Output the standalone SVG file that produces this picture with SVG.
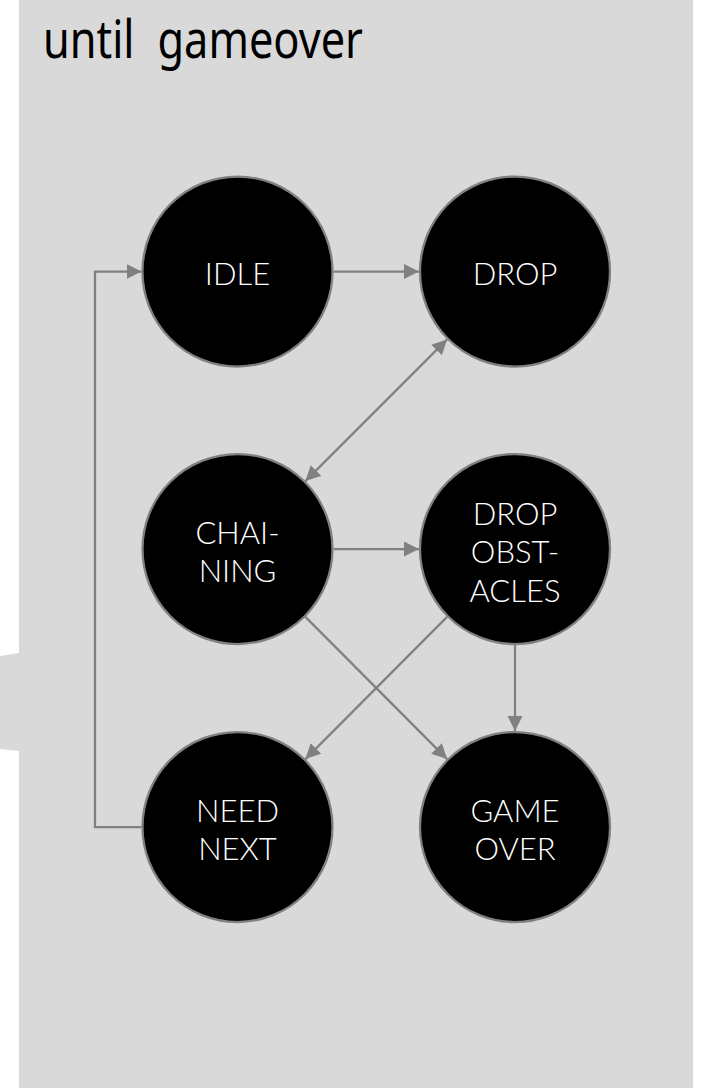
<svg xmlns="http://www.w3.org/2000/svg" width="708" height="1088" viewBox="0 0 708 1088">
  <defs>
    <style>
      .panel { fill: #d9d9d9; }
      .node circle { fill: #000000; stroke: #808080; stroke-width: 2.25; }
      .node text { fill: #ffffff; font-family: Lato, "Noto Sans", "Liberation Sans", sans-serif; font-size: 31px; font-weight: 300; text-anchor: middle; }
      .title { fill: #000000; font-family: "Noto Sans", "Open Sans", "Liberation Sans", sans-serif; font-size: 52px; word-spacing: 14px; }
      .edge { fill: none; stroke: #808080; stroke-width: 2.25; }
    </style>
    <marker id="arrow" markerUnits="userSpaceOnUse" markerWidth="15" markerHeight="15" refX="15" refY="7.5" orient="auto-start-reverse" viewBox="0 0 15 15">
      <path d="M0,0 L15,7.5 L0,15 z" fill="#808080"/>
    </marker>
  </defs>

  <g id="background">
    <rect class="panel" x="19" y="0" width="674" height="1088"/>
    <polygon class="panel" points="19,653 0,656 0,749 19,751"/>
    <text class="title" x="43" y="58" textLength="320" lengthAdjust="spacingAndGlyphs">until gameover</text>
  </g>

  <g id="connectors">
    <path class="edge" d="M333.5,271.5 L419,271.5" marker-end="url(#arrow)"/>
    <path class="edge" d="M447.1,339.4 L305.4,481.1" marker-start="url(#arrow)" marker-end="url(#arrow)"/>
    <path class="edge" d="M333.5,549 L419,549" marker-end="url(#arrow)"/>
    <path class="edge" d="M305.4,616.9 L447.1,759.1" marker-end="url(#arrow)"/>
    <path class="edge" d="M447.1,616.9 L305.4,759.1" marker-end="url(#arrow)"/>
    <path class="edge" d="M515,645 L515,731" marker-end="url(#arrow)"/>
    <path class="edge" d="M141.5,827 L95,827 L95,271.5 L141.5,271.5" marker-end="url(#arrow)"/>
  </g>

  <g id="node-idle" class="node">
    <circle cx="237.5" cy="271.5" r="95"/>
    <text x="237.5" y="285">IDLE</text>
  </g>
  <g id="node-drop" class="node">
    <circle cx="515" cy="271.5" r="95"/>
    <text x="515" y="285">DROP</text>
  </g>
  <g id="node-chaining" class="node">
    <circle cx="237.5" cy="549" r="95"/>
    <text x="237.5" y="544">CHAI-</text>
    <text x="237.5" y="582.3">NING</text>
  </g>
  <g id="node-drop-obstacles" class="node">
    <circle cx="515" cy="549" r="95"/>
    <text x="515" y="525">DROP</text>
    <text x="515" y="563.3">OBST-</text>
    <text x="515" y="601.7">ACLES</text>
  </g>
  <g id="node-need-next" class="node">
    <circle cx="237.5" cy="827" r="95"/>
    <text x="237.5" y="822.3">NEED</text>
    <text x="237.5" y="860">NEXT</text>
  </g>
  <g id="node-game-over" class="node">
    <circle cx="515" cy="827" r="95"/>
    <text x="515" y="822.3">GAME</text>
    <text x="515" y="860">OVER</text>
  </g>
</svg>
